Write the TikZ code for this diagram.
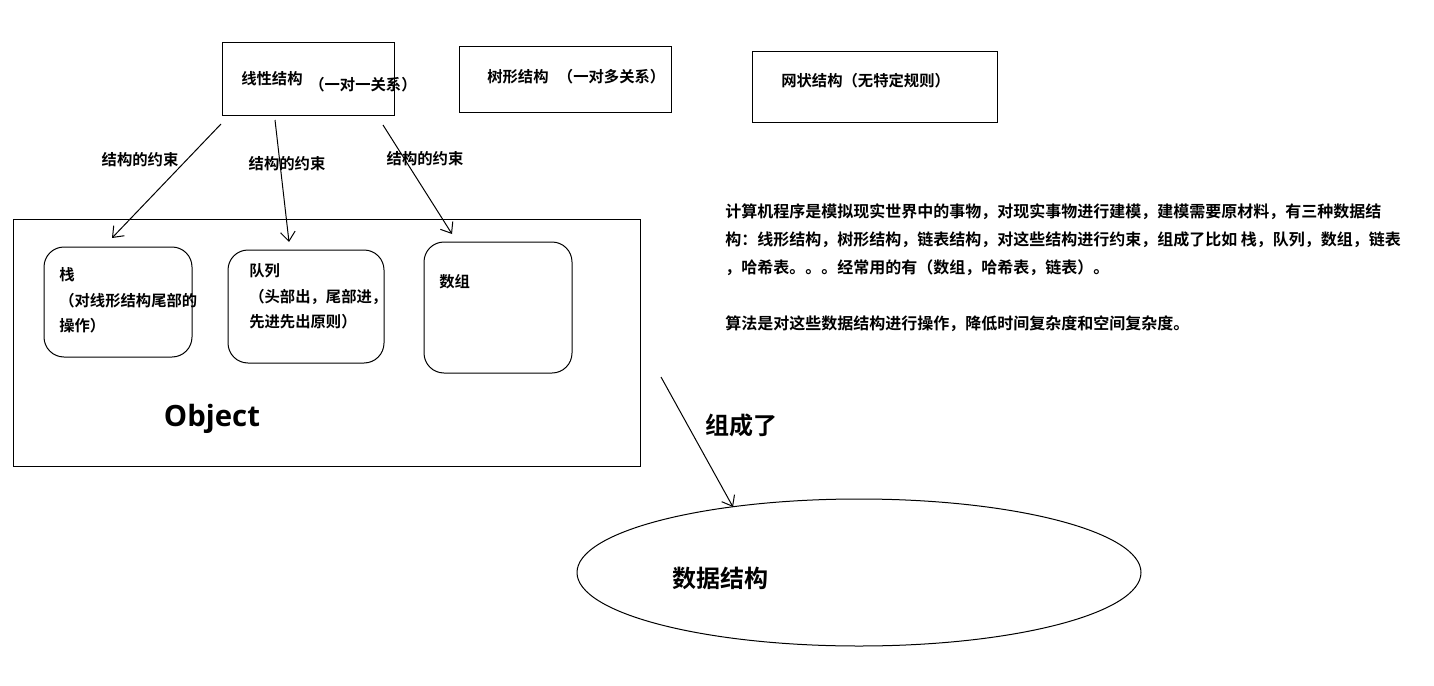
\documentclass[tikz,border=0pt]{standalone}
\usepackage{fontspec}
\setmainfont{Noto Sans CJK SC}[UprightFont=* Bold, BoldFont=* Black]
\newfontfamily\objfont{Open Sans}
\usetikzlibrary{arrows.meta,shapes.geometric}
\begin{document}
\begin{tikzpicture}[x=0.75pt,y=-0.75pt,
  frame/.style={draw=black,line width=0.75pt,inner sep=0pt},
  rbox/.style={frame,rounded corners=15pt},
  txt/.style={inner sep=0pt,font=\fontsize{11.5pt}{19pt}\selectfont,align=left},
  ptxt/.style={inner sep=0pt,font=\fontsize{12pt}{21pt}\selectfont,align=left,anchor=west},
  big/.style={inner sep=0pt,font=\fontsize{18pt}{22pt}\selectfont},
  arr/.style={draw=black,line width=0.75pt,-{Straight Barb[length=7pt,width=11pt,line width=0.75pt]}}]
\useasboundingbox (0,0) rectangle (1434,685);
\fill[white] (0,0) rectangle (1434,685);

% top boxes
\node[frame,minimum width=129pt,minimum height=54pt] (lin) at (308,79) {};
\node[frame,minimum width=159pt,minimum height=48.75pt] (tree) at (565,79.5) {};
\node[frame,minimum width=183.75pt,minimum height=52.5pt] (net) at (874.5,87) {};
\node[txt,anchor=west] (linA) at (241,79) {线性结构};
\node[txt,anchor=west] (linB) at (309,85) {（一对一关系）};
\node[txt,anchor=west] (treeA) at (487,77) {树形结构\hspace{7pt}（一对多关系）};
\node[txt,anchor=west] (netA) at (781,81) {网状结构（无特定规则）};

% object region
\node[frame,minimum width=470.25pt,minimum height=185.25pt] (obj) at (326.5,342.5) {};
\node[rbox,minimum width=111pt,minimum height=82.5pt] (stack) at (118,302) {};
\node[rbox,minimum width=117pt,minimum height=84.75pt] (queue) at (306,306.5) {};
\node[rbox,minimum width=111pt,minimum height=98.25pt] (array) at (498,307.5) {};
\node[txt,anchor=west] (stackT) at (59,300.5) {栈\\（对线形结构尾部的\\操作）};
\node[txt,anchor=west] (queueT) at (249,296.5) {队列\\（头部出，尾部进，\\先进先出原则）};
\node[txt,anchor=west] (arrayT) at (439,282) {数组};
\node[inner sep=0pt,font=\objfont\bfseries\fontsize{22pt}{26pt}\selectfont] (objT) at (212,419) {Object};

% constraint arrows
\coordinate (s1) at (221,124);
\coordinate (e1) at (112,238);
\coordinate (s2) at (275,120);
\coordinate (e2) at (289,242);
\coordinate (s3) at (383,125);
\coordinate (e3) at (452,234);
\draw[arr] (s1) -- (e1);
\draw[arr] (s2) -- (e2);
\draw[arr] (s3) -- (e3);
\node[txt] (c1) at (140,160) {结构的约束};
\node[txt] (c2) at (287,164) {结构的约束};
\node[txt] (c3) at (425,159) {结构的约束};

% right paragraph
\node[ptxt] (para) at (725,240) {计算机程序是模拟现实世界中的事物，对现实事物进行建模，建模需要原材料，有三种数据结\\构：线形结构，树形结构，链表结构，对这些结构进行约束，组成了比如 栈，队列，数组，链表\\，哈希表。。。经常用的有（数组，哈希表，链表）。};
\node[ptxt] (algo) at (725,324) {算法是对这些数据结构进行操作，降低时间复杂度和空间复杂度。};

% data structure ellipse
\node[ellipse,draw=black,line width=0.75pt,minimum width=423pt,minimum height=110.25pt,inner sep=0pt] (ds) at (859,572.5) {};
\node[big] (dsT) at (720,578) {数据结构};
\node[big] (form) at (741,425) {组成了};
\coordinate (s4) at (661,377);
\coordinate (e4) at (733,507);
\draw[arr] (s4) -- (e4);
\end{tikzpicture}
\end{document}
